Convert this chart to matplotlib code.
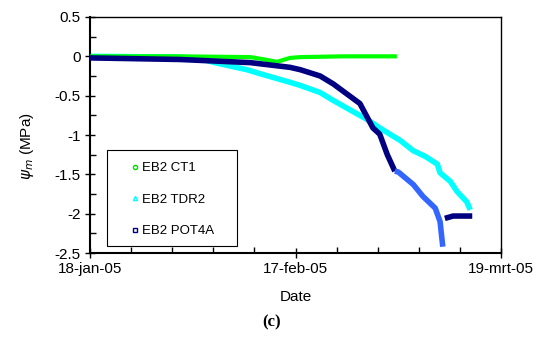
import matplotlib
matplotlib.use("Agg")
import matplotlib.pyplot as plt
from matplotlib.patches import Rectangle
from matplotlib.ticker import MultipleLocator
import pandas as pd

plt.rcParams["font.family"] = ["Liberation Sans", "DejaVu Sans"]

START = pd.Timestamp("2005-01-18")

# days since 18-jan-05 and suction (MPa)
ct1_days = [0.0, 13.0, 23.4, 25.5, 27.3, 29.2, 30.7, 37.0, 44.8]
ct1_psi = [0.0, 0.0, -0.01, -0.04, -0.07, -0.02, -0.01, 0.0, 0.0]

tdr2_days = [0.0, 13.1, 16.1, 18.2, 22.9, 24.8, 29.2, 30.7, 33.6, 35.5, 40.4,
             42.3, 45.3, 47.2, 48.9, 50.7, 51.1, 52.6, 53.6, 55.0, 55.5]
tdr2_psi = [0.0, -0.01, -0.03, -0.08, -0.17, -0.22, -0.33, -0.37, -0.46, -0.56, -0.80,
            -0.91, -1.07, -1.20, -1.27, -1.37, -1.48, -1.59, -1.72, -1.85, -1.95]

pot4a_days = [0.0, 13.1, 23.4, 29.2, 30.7, 33.6, 35.5, 39.4, 41.3, 42.3, 43.4, 44.5]
pot4a_psi = [-0.02, -0.04, -0.08, -0.14, -0.17, -0.25, -0.35, -0.60, -0.91, -0.99, -1.25, -1.46]

# continuation of POT4A logged after the drop
pot4a_b_days = [44.5, 45.0, 47.2, 48.6, 50.4, 51.1, 51.5]
pot4a_b_psi = [-1.46, -1.47, -1.63, -1.78, -1.93, -2.10, -2.42]

pot4a_c_days = [51.8, 53.0, 55.8]
pot4a_c_psi = [-2.06, -2.03, -2.03]


def to_dates(days):
    return START + pd.to_timedelta(days, unit="D")


fig = plt.figure(figsize=(5.43, 3.42), dpi=100, facecolor="white")
ax = fig.add_axes([0.1657, 0.2602, 0.7570, 0.6901])

ax.plot(to_dates(ct1_days), ct1_psi, color="#00FF00", lw=3,
        solid_capstyle="butt", zorder=3)
ax.plot(to_dates(tdr2_days), tdr2_psi, color="#00FFFF", lw=4,
        solid_capstyle="butt", zorder=2)
ax.plot(to_dates(pot4a_days), pot4a_psi, color="#000080", lw=4,
        solid_capstyle="butt", zorder=4)
ax.plot(to_dates(pot4a_b_days), pot4a_b_psi, color="#3366FF", lw=4,
        solid_capstyle="butt", zorder=4)
ax.plot(to_dates(pot4a_c_days), pot4a_c_psi, color="#000080", lw=4,
        solid_capstyle="butt", zorder=4)

# legend entries use small open markers
ax.plot([], [], "o", ms=3, mfc="white", mec="#00DD00", mew=1, ls="none", label="EB2 CT1")
ax.plot([], [], "^", ms=3, mfc="white", mec="#00FFFF", mew=1, ls="none", label="EB2 TDR2")
ax.plot([], [], "s", ms=3, mfc="white", mec="#000080", mew=1, ls="none", label="EB2 POT4A")

ax.set_ylim(-2.5, 0.5)
ax.set_xlim(START, START + pd.Timedelta(days=60))
ax.yaxis.set_major_locator(MultipleLocator(0.5))
ax.yaxis.set_minor_locator(MultipleLocator(0.25))
ax.yaxis.set_major_formatter(plt.FuncFormatter(lambda v, p: f"{v:g}"))

major_dates = [START + pd.Timedelta(days=d) for d in (0, 30, 60)]
minor_dates = [START + pd.Timedelta(days=d) for d in range(0, 61, 6)]
ax.set_xticks(major_dates)
ax.set_xticks(minor_dates, minor=True)
ax.set_xticklabels(["18-jan-05", "17-feb-05", "19-mrt-05"])

ax.tick_params(which="major", direction="inout", length=7, width=1,
               labelsize=11, colors="black", pad=3)
ax.tick_params(which="minor", direction="in", length=4, width=1)
for s in ax.spines.values():
    s.set_linewidth(1)
ax.spines["left"].set_linewidth(1.5)
ax.spines["bottom"].set_linewidth(1.5)

ax.set_xlabel("Date", fontsize=11, labelpad=10)
ax.set_ylabel(r"$\psi_m$ (MPa)", fontsize=11)
ax.yaxis.set_label_coords(-0.131, 0.453)

# legend box drawn separately so it can be wider than its entries
ax.add_patch(Rectangle((0.041, 0.030), 0.316, 0.407, transform=ax.transAxes,
                       facecolor="white", edgecolor="black", lw=0.8, zorder=5))
leg = ax.legend(loc="upper left", bbox_to_anchor=(0.0966, 0.385), frameon=False,
                fontsize=9.5, handletextpad=0.15, labelspacing=1.45, borderpad=0,
                handlelength=0.8, borderaxespad=0)
leg.set_zorder(6)

fig.text(0.4995, 0.058, "(c)", ha="center", va="center", fontsize=12,
         fontweight="bold", fontfamily="Liberation Serif")

fig.savefig("out.png", dpi=100, facecolor="white")
